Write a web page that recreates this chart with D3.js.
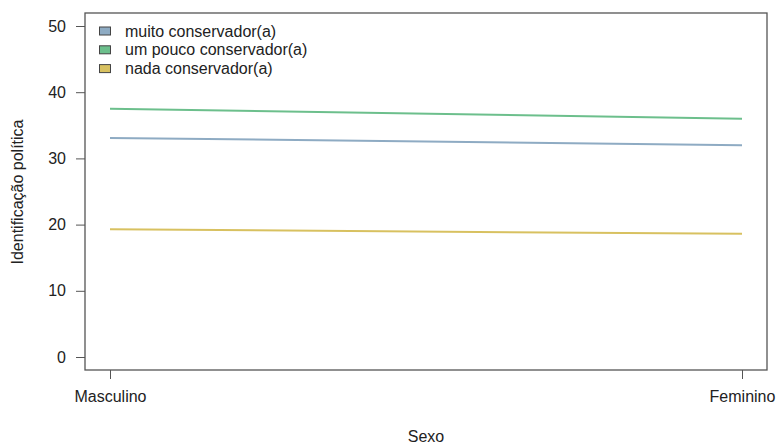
<!DOCTYPE html>
<html><head><meta charset="utf-8">
<script src="https://cdn.jsdelivr.net/npm/d3@7"></script>
<style>body{margin:0;background:#fff}svg{display:block}text{font-family:"Liberation Sans",Arial,sans-serif;fill:#222}</style>
</head><body><svg id="c" width="778" height="445"></svg>
<script>
const categories = ["Masculino", "Feminino"];
const seriesNames = ["muito conservador(a)", "um pouco conservador(a)", "nada conservador(a)"];
const muito = [33.1, 32.0];
const umPouco = [37.5, 36.0];
const nada = [19.3, 18.6];
const yTicks = [0, 10, 20, 30, 40, 50];
const colors = ["#8eabc3", "#6cbf8c", "#d8c160"];
const series = [muito, umPouco, nada];

const FS = 16;
const svg = d3.select("#c");
const box = {l: 85, r: 767, t: 13, b: 370};
const x = d3.scalePoint().domain(categories).range([110, 742]);
const y = d3.scaleLinear().domain([0, 50]).range([357, 26]);

// box
svg.append("rect").attr("x", box.l).attr("y", box.t).attr("width", box.r - box.l).attr("height", box.b - box.t)
  .attr("fill", "none").attr("stroke", "#555").attr("stroke-width", 1.3);

// y axis
const ya = svg.append("g").attr("transform", `translate(${box.l},0)`)
  .call(d3.axisLeft(y).tickValues(yTicks).tickSize(9).tickPadding(10));
ya.select(".domain").remove();
ya.selectAll("line").attr("stroke", "#555");
ya.selectAll("text").attr("font-size", FS).attr("fill", "#222");

// x axis
const xa = svg.append("g").attr("transform", `translate(0,${box.b})`)
  .call(d3.axisBottom(x).tickSize(9).tickPadding(12));
xa.select(".domain").remove();
xa.selectAll("line").attr("stroke", "#555");
xa.selectAll("text").attr("font-size", FS).attr("fill", "#222");

// lines
const line = d3.line().x((d, i) => x(categories[i])).y(d => y(d));
series.forEach((s, i) => {
  svg.append("path").datum(s).attr("d", line).attr("fill", "none")
    .attr("stroke", colors[i]).attr("stroke-width", 2);
});

// legend
seriesNames.forEach((n, i) => {
  const yy = 31 + i * 18.8;
  svg.append("rect").attr("x", 99.5).attr("y", yy - 4).attr("width", 11).attr("height", 8)
    .attr("fill", colors[i]).attr("stroke", "#444").attr("stroke-width", 1);
  svg.append("text").attr("x", 125).attr("y", yy + 5.5).attr("font-size", FS).text(n);
});

// axis titles
svg.append("text").attr("x", 426).attr("y", 442).attr("text-anchor", "middle").attr("font-size", FS).text("Sexo");
svg.append("text").attr("transform", "translate(23,192) rotate(-90)").attr("text-anchor", "middle")
  .attr("font-size", FS).text("Identificação política");
</script></body></html>
